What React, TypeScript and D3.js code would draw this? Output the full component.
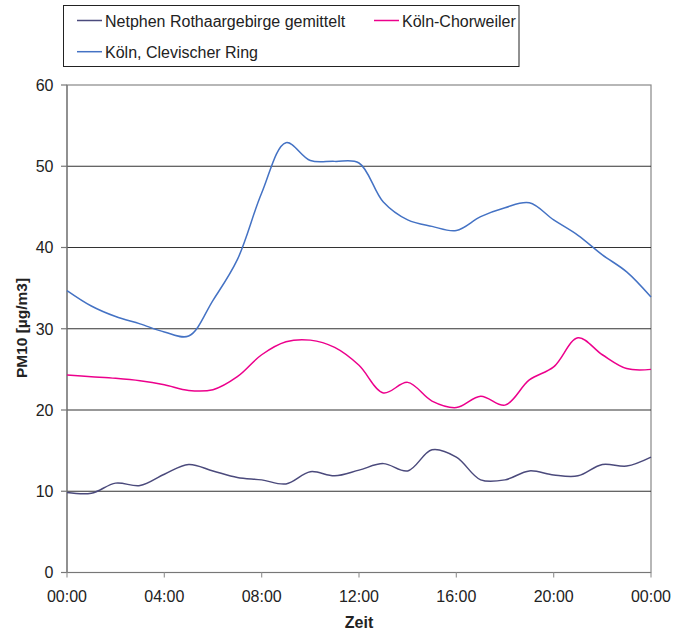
import React from "react";
import * as d3 from "d3";

const hours = d3.range(0, 25);
const tickHours = [0, 4, 8, 12, 16, 20, 24];
const tickLabels = ["00:00", "04:00", "08:00", "12:00", "16:00", "20:00", "00:00"];
const yTicks = [0, 10, 20, 30, 40, 50, 60];

const netphen = [9.85, 9.75, 11.0, 10.7, 12.1, 13.3, 12.5, 11.7, 11.4, 10.9, 12.4, 11.9, 12.6, 13.4, 12.5, 15.1, 14.2, 11.4, 11.4, 12.5, 12.0, 11.9, 13.3, 13.1, 14.2];
const chorweiler = [24.3, 24.1, 23.9, 23.6, 23.1, 22.4, 22.5, 24.1, 26.8, 28.4, 28.6, 27.7, 25.5, 22.1, 23.4, 21.1, 20.3, 21.7, 20.6, 23.7, 25.3, 28.9, 26.8, 25.1, 25.0];
const clevischer = [34.7, 32.8, 31.5, 30.6, 29.6, 29.1, 33.5, 38.5, 46.7, 52.9, 50.7, 50.6, 50.4, 45.6, 43.4, 42.6, 42.1, 43.8, 44.9, 45.5, 43.4, 41.5, 39.1, 37.0, 33.9];

const seriesNames = ["Netphen Rothaargebirge gemittelt", "Köln-Chorweiler", "Köln, Clevischer Ring"];
const seriesColors = ["#4b4a7c", "#ec008c", "#4472c4"];
const seriesData = [netphen, chorweiler, clevischer];

export default function App() {
  const W = 673, H = 631;
  const left = 67, right = 651, top = 85, bottom = 572.5;
  const x = d3.scaleLinear().domain([0, 24]).range([left, right]);
  const y = d3.scaleLinear().domain([0, 60]).range([bottom, top]);
  const line = d3.line<number>()
    .x((_, i) => x(hours[i]))
    .y((d) => y(d))
    .curve(d3.curveCatmullRom.alpha(0.5));
  const font = "Liberation Sans";
  const legendPos = [
    { lx: 77, ly: 20.5, ty: 27.3 },
    { lx: 374, ly: 20.5, ty: 27.3 },
    { lx: 77, ly: 51.7, ty: 58.3 },
  ];

  return (
    <svg width={W} height={H} style={{ position: "absolute", left: 0, top: 0 }} fontFamily={font}>
      <rect x={0} y={0} width={W} height={H} fill="#fff" />
      {/* legend */}
      <rect x={63.5} y={5.5} width={455.5} height={61} fill="#fff" stroke="#222" strokeWidth={1} />
      {seriesNames.map((n, i) => {
        const p = legendPos[i];
        return (
          <g key={n}>
            <line x1={p.lx} x2={p.lx + 25} y1={p.ly} y2={p.ly} stroke={seriesColors[i]} strokeWidth={1.5} />
            <text x={p.lx + 28} y={p.ty} fontSize={16} fill="#222">{n}</text>
          </g>
        );
      })}
      {/* plot frame */}
      <rect x={left} y={top} width={right - left} height={bottom - top} fill="none" stroke="#888" strokeWidth={1.2} />
      {yTicks.filter((t) => t > 0 && t < 60).map((t) => (
        <line key={t} x1={left} x2={right} y1={y(t)} y2={y(t)} stroke="#333" strokeWidth={1.2} />
      ))}
      {/* y axis */}
      <line x1={left} x2={left} y1={top} y2={bottom} stroke="#777" strokeWidth={1.2} />
      {yTicks.map((t) => (
        <g key={t}>
          <line x1={left - 6} x2={left} y1={y(t)} y2={y(t)} stroke="#777" strokeWidth={1.2} />
          <text x={53.5} y={y(t) + 5.8} fontSize={16} textAnchor="end" fill="#222">{t}</text>
        </g>
      ))}
      {/* x axis */}
      <line x1={left} x2={right} y1={bottom} y2={bottom} stroke="#777" strokeWidth={1.2} />
      {tickHours.map((h, i) => (
        <g key={i}>
          <line x1={x(h)} x2={x(h)} y1={bottom} y2={bottom + 5} stroke="#999" strokeWidth={1.2} />
          <text x={x(h)} y={602} fontSize={16} textAnchor="middle" fill="#222">{tickLabels[i]}</text>
        </g>
      ))}
      {/* series */}
      {seriesData.map((d, i) => (
        <path key={i} d={line(d) || ""} fill="none" stroke={seriesColors[i]} strokeWidth={1.5} />
      ))}
      {/* axis titles */}
      <text x={359} y={628} fontSize={16} fontWeight="bold" textAnchor="middle" fill="#222">Zeit</text>
      <text transform={`translate(26.5, 328) rotate(-90)`} fontSize={15.5} fontWeight="bold" textAnchor="middle" fill="#222">PM10 [µg/m3]</text>
    </svg>
  );
}
